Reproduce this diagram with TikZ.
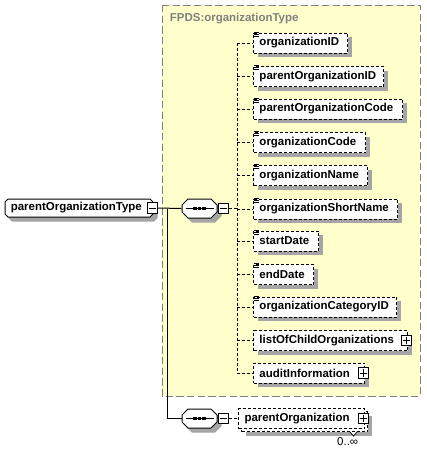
\documentclass[tikz,border=0pt]{standalone}
\usepackage{fontspec}
\setmainfont{Liberation Sans}
\usetikzlibrary{shadows}
\definecolor{amarelo}{RGB}{255,255,204}
\definecolor{cinza}{RGB}{128,128,128}
\definecolor{sombra}{RGB}{165,165,165}
% octogono com sombra: x1, y1, x2, y2, chanfro
\newcommand\octogono[5]{%
  \foreach \dd/\cor/\borda in {4/sombra/sombra, 0/white/black}
    \filldraw[fill=\cor, draw=\borda, shift={(\dd,\dd)}]
      (#1+#5,#2) -- (#3-#5,#2) -- (#3,#2+#5) -- (#3,#4-#5) -- (#3-#5,#4)
      -- (#1+#5,#4) -- (#1,#4-#5) -- (#1,#2+#5) -- cycle;}
\begin{document}
\begin{tikzpicture}[
  x=0.75pt, y=-0.75pt, line width=0.75pt,
  font=\fontsize{8.6}{10}\selectfont\bfseries,
  tracos/.style={dash pattern=on 2.25pt off 1.5pt},
  sombreado/.style={drop shadow={shadow xshift=3pt, shadow yshift=-3pt, fill=sombra, opacity=1}},
  elem/.style={draw, tracos, fill=white, minimum height=15pt, inner xsep=4.5pt, inner ysep=0pt, anchor=west, align=left},
  caixa/.style={draw, fill=white, minimum width=7.5pt, minimum height=8pt, inner sep=0pt}
]
\useasboundingbox (0,0) rectangle (426,451);
% tipo complexo
\draw[cinza, fill=amarelo, dash pattern=on 5.5pt off 2.5pt] (162,5) rectangle (420,396);
\node[anchor=west, text=cinza] (titulo) at (165,19) {FPDS:organizationType};
% elemento raiz
\octogono{5}{199}{153}{217}{3}
\node[anchor=west, minimum width=111pt, minimum height=13.5pt, text width=103pt, inner sep=0pt, align=left] (raiz) at (5,208) {parentOrganizationType};
\node[caixa] (m0) at ([xshift=-1pt]raiz.east) {};
\draw ([xshift=1.5pt]m0.west) -- ([xshift=-1.5pt]m0.east);
% sequencias
\octogono{182}{199}{217}{218}{6}
\octogono{182}{409}{217}{428}{6}
\node[minimum width=26.25pt, minimum height=14.25pt, inner sep=0pt] (seq1) at (199.5,208.5) {};
\node[minimum width=26.25pt, minimum height=14.25pt, inner sep=0pt] (seq2) at (199.5,418.5) {};
\foreach \s in {seq1,seq2} {
  \draw ([xshift=-10.5pt]\s.center) -- ([xshift=10.5pt]\s.center);
  \foreach \d in {-3.4,0,3.4}
    \fill ([xshift={\d*1pt-1.3pt}, yshift=-1.2pt]\s.center) rectangle ([xshift={\d*1pt+1.3pt}, yshift=1.2pt]\s.center);
  \node[caixa, anchor=west] (m\s) at (\s.east) {};
  \draw ([xshift=1.5pt]m\s.west) -- ([xshift=-1.5pt]m\s.east);
}
\coordinate (desvio) at (167,208.5);
\coordinate (barra) at (237,208.5);
\draw (m0.east) -- (seq1.west);
\draw (desvio) |- (seq2.west);
\draw[tracos] (mseq1.east) -- (barra);
% filhos
\foreach \nome/\y/\w/\ic [count=\i] in {
  organizationID/43/94/1, parentOrganizationID/76.5/130/1, parentOrganizationCode/109/149/1,
  organizationCode/142.5/112/1, organizationName/175.5/114/1, organizationShortName/209/144/1,
  startDate/241/65/1, endDate/274.5/60/1, organizationCategoryID/307/143/1,
  listOfChildOrganizations/340.5/154/0, auditInformation/373/111/0} {
  \pgfmathsetmacro\tw{(\w-12)*0.75}
  \node[elem, sombreado, text width=\tw pt] (f\i) at (253,\y) {\nome};
  \draw[tracos] (barra |- f\i.west) -- (f\i.west);
  \ifnum\ic=1
    \foreach \k in {0,1,2}
      \draw[line width=0.6pt] ([xshift=0.75pt, yshift={-\k*1.5pt+0.3pt}]f\i.north west) -- +(5,0);
  \else
    \node[caixa] (p\i) at ([xshift=-1.5pt]f\i.east) {};
    \draw ([xshift=1.5pt]p\i.west) -- ([xshift=-1.5pt]p\i.east);
    \draw ([yshift=-1.5pt]p\i.north) -- ([yshift=1.5pt]p\i.south);
  \fi
}
\draw[tracos] (barra |- f1.west) -- (barra |- f11.west);
% elemento repetido
\node[elem, sombreado, minimum width=94.5pt] (po2) at (241,421.5) {};
\node[elem, text width=85.5pt] (po) at (238,418.5) {parentOrganization};
\node[caixa] (ppo) at ([xshift=-1.5pt]po.east) {};
\draw ([xshift=1.5pt]ppo.west) -- ([xshift=-1.5pt]ppo.east);
\draw ([yshift=-1.5pt]ppo.north) -- ([yshift=1.5pt]ppo.south);
\draw[line width=0.6pt, fill=white] ([xshift=-13.5pt]po2.south east) -- ++(3.5,4) -- ++(3.5,-4);
\draw[tracos] (mseq2.east) -- (po.west);
\node[font=\fontsize{8.6}{10}\selectfont, anchor=north east, inner sep=1pt] (card) at ([xshift=-6pt, yshift=-2.5pt]po2.south east) {0..∞};
\end{tikzpicture}
\end{document}
